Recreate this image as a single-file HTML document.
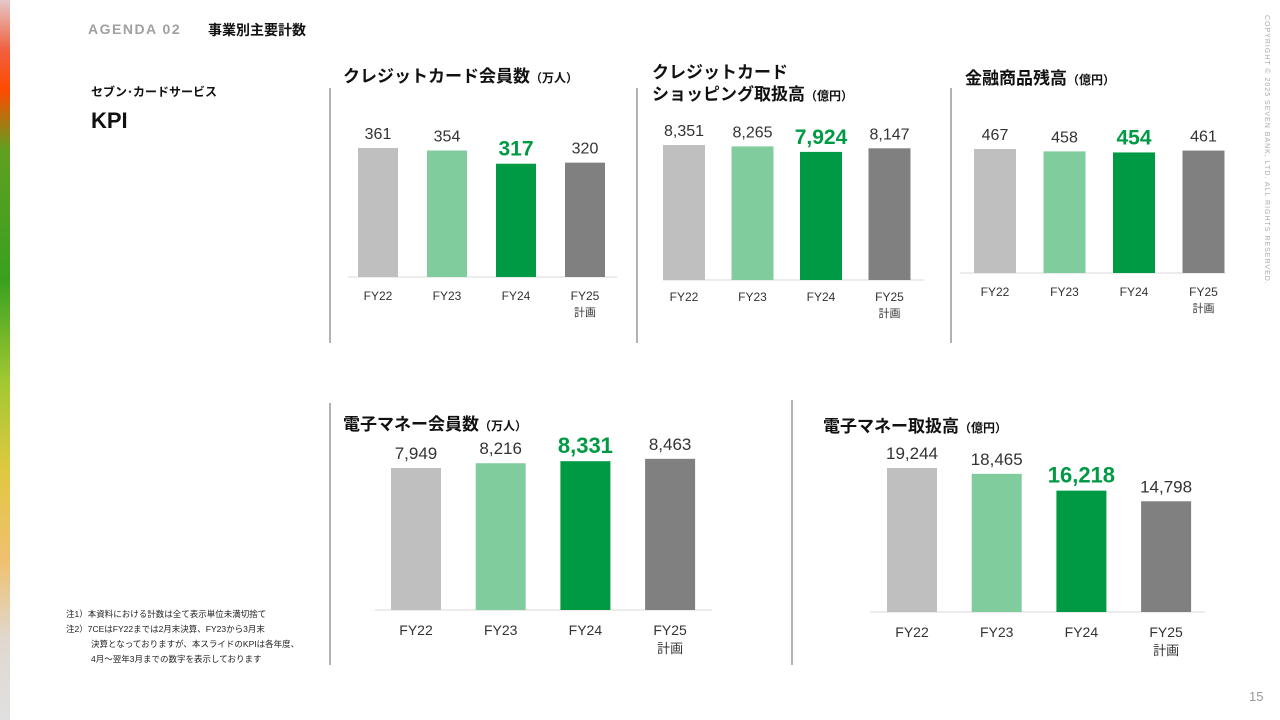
<!DOCTYPE html>
<html><head><meta charset="utf-8">
<style>
html,body{margin:0;padding:0;background:#fff;}
body{width:1280px;height:720px;position:relative;overflow:hidden;font-family:"Liberation Sans","Noto Sans CJK JP",sans-serif;}
.abs{position:absolute;white-space:nowrap;}
#strip{position:absolute;left:0;top:0;width:10px;height:720px;background:linear-gradient(to bottom,#e6c8c8 0px,#f06040 50px,#ff4a00 90px,#60a020 150px,#3aa020 280px,#a0c830 380px,#e0c840 470px,#f0c070 560px,#e0d8d0 640px,#e0e0e0 720px);}
.ttl{font-weight:bold;font-size:17px;color:#111;}
.ttl small{font-size:12px;}
</style></head><body>
<div id="strip"></div>
<div class="abs" style="left:88px;top:21px;font-size:14px;font-weight:bold;color:#a0a0a0;letter-spacing:1.5px;">AGENDA 02</div>
<div class="abs" style="left:208px;top:20px;font-size:14px;font-weight:bold;color:#111;">事業別主要計数</div>
<div class="abs" style="left:91px;top:83px;font-size:12px;font-weight:bold;color:#111;">セブン･カードサービス</div>
<div class="abs" style="left:91px;top:108px;font-size:22px;font-weight:bold;color:#111;">KPI</div>
<div class="abs" style="left:66px;top:607px;font-size:8.5px;line-height:15px;color:#222;">
注1）本資料における計数は全て表示単位未満切捨て<br>注2）7CEはFY22までは2月末決算、FY23から3月末<br><span style="padding-left:25px">決算となっておりますが、本スライドのKPIは各年度、</span><br><span style="padding-left:25px">4月～翌年3月までの数字を表示しております</span></div>
<div class="abs" style="left:1262px;top:15px;font-size:7px;color:#aaa;letter-spacing:1px;transform-origin:0 0;transform:translate(8px,0) rotate(90deg);">COPYRIGHT © 2025 SEVEN BANK, LTD. ALL RIGHTS RESERVED.</div>
<div class="abs" style="left:1249px;top:689px;font-size:13px;color:#999;">15</div>

<div class="abs ttl" style="left:343px;top:62px;">クレジットカード会員数<small>（万人）</small></div>
<div class="abs ttl" style="left:652px;top:62px;line-height:22px;">クレジットカード<br>ショッピング取扱高<small>（億円）</small></div>
<div class="abs ttl" style="left:965px;top:64px;">金融商品残高<small>（億円）</small></div>
<div class="abs ttl" style="left:343px;top:410px;">電子マネー会員数<small>（万人）</small></div>
<div class="abs ttl" style="left:823px;top:412px;">電子マネー取扱高<small>（億円）</small></div>

<svg id="svg" width="1280" height="720" style="position:absolute;left:0;top:0;"></svg>
<script>
const categories=["FY22","FY23","FY24","FY25"];
const cardMembers=[361,354,317,320];
const cardMembersLabels=["361","354","317","320"];
const shoppingVolume=[8351,8265,7924,8147];
const shoppingVolumeLabels=["8,351","8,265","7,924","8,147"];
const financialBalance=[467,458,454,461];
const financialBalanceLabels=["467","458","454","461"];
const emoneyMembers=[7949,8216,8331,8463];
const emoneyMembersLabels=["7,949","8,216","8,331","8,463"];
const emoneyVolume=[19244,18465,16218,14798];
const emoneyVolumeLabels=["19,244","18,465","16,218","14,798"];
const colors=["#bfbfbf","#80cc9c","#009a44","#808080"];
const NS="http://www.w3.org/2000/svg";
const svg=document.getElementById("svg");
function mk(tag,attrs){const e=document.createElementNS(NS,tag);for(const k in attrs)e.setAttribute(k,attrs[k]);svg.appendChild(e);return e;}
const seps=[[330,88,343],[637,88,343],[951,88,343],[330,403,665],[792,400,665]];
seps.forEach(s=>{const l=mk("line",{x1:s[0],x2:s[0],y1:s[1],y2:s[2],stroke:"#999","stroke-width":1.5});

});
function chart(id,vals,labels,cfg){
  const y=v=>cfg.base-v*cfg.scale;
  const ax=mk("line",{x1:cfg.lx1,x2:cfg.lx2,y1:cfg.base,y2:cfg.base,stroke:"#d9d9d9","stroke-width":1});
  
  
  vals.forEach((v,i)=>{
    const cx=cfg.x0+i*cfg.step;
    const r=mk("rect",{x:cx-cfg.w/2,y:y(v),width:cfg.w,height:cfg.base-y(v),fill:colors[i]});
    
    
    const hi=i===2;
    const t=mk("text",{x:cx,y:y(v)-(hi?8:9),"text-anchor":"middle","font-size":hi?cfg.fb:cfg.fs,"font-weight":hi?"bold":"normal",fill:hi?"#009a44":"#333"});
    t.textContent=labels[i];
    
    
    const c=mk("text",{x:cx,y:cfg.base+cfg.ly,"text-anchor":"middle","font-size":cfg.cs,fill:"#333"});
    c.textContent=categories[i];
    
    
    if(i===3){const p=mk("text",{x:cx,y:cfg.base+cfg.ly+cfg.cs+4,"text-anchor":"middle","font-size":cfg.cs-1,fill:"#333","font-family":"Noto Sans CJK JP, sans-serif"});
      p.textContent="計画";
      
      }
  });
}
chart("card-members",cardMembers,cardMembersLabels,{x0:378,step:69,w:40,base:277,scale:129/361,lx1:348,lx2:617,fs:16,fb:21,cs:12,ly:23});
chart("shopping-volume",shoppingVolume,shoppingVolumeLabels,{x0:684,step:68.5,w:42,base:280,scale:135/8351,lx1:663,lx2:924,fs:16,fb:21,cs:12,ly:21});
chart("financial-balance",financialBalance,financialBalanceLabels,{x0:995,step:69.5,w:42,base:273,scale:124/467,lx1:960,lx2:1225,fs:16,fb:21,cs:12,ly:23});
chart("emoney-members",emoneyMembers,emoneyMembersLabels,{x0:416,step:84.7,w:50,base:610,scale:142/7949,lx1:375,lx2:712,fs:17,fb:22,cs:14,ly:25});
chart("emoney-volume",emoneyVolume,emoneyVolumeLabels,{x0:912,step:84.7,w:50,base:612,scale:144/19244,lx1:870,lx2:1205,fs:17,fb:22,cs:14,ly:25});
</script>
</body></html>
